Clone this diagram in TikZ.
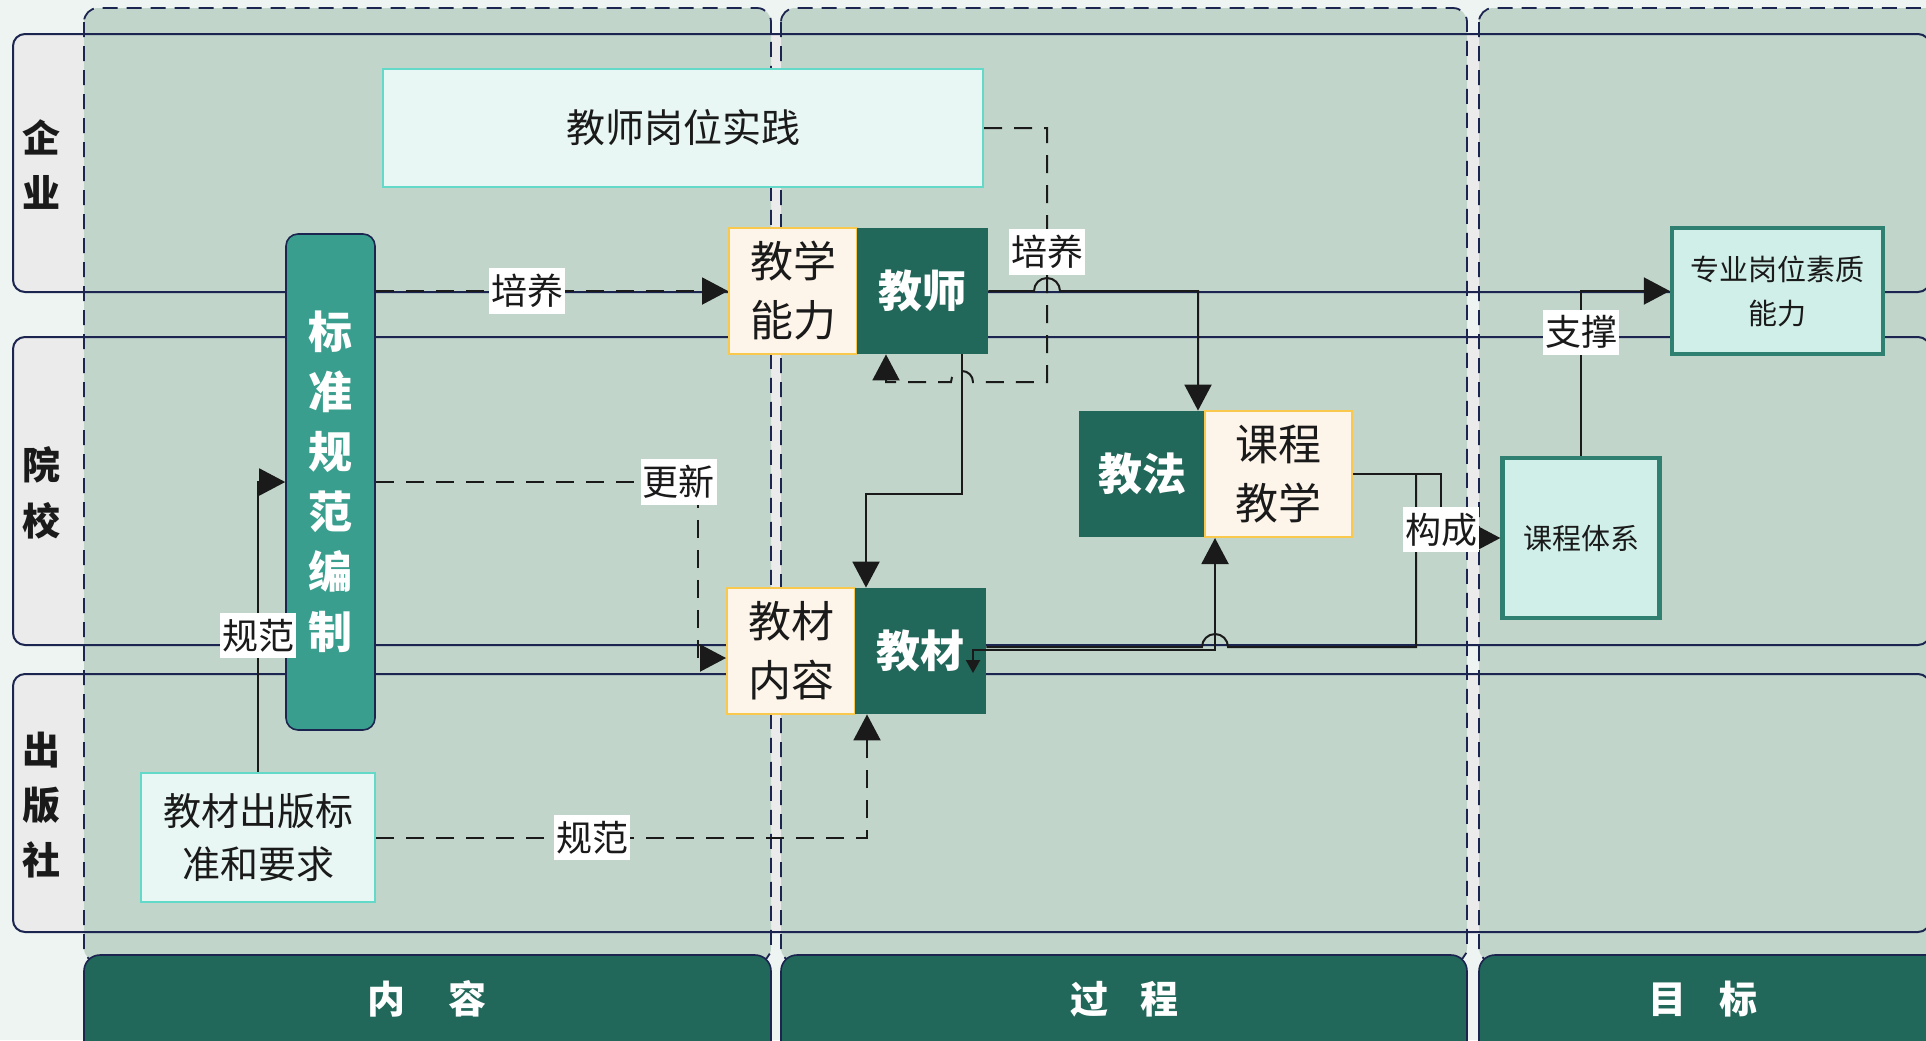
\documentclass[tikz,border=0pt]{standalone}
\usepackage{fontspec}
\setmainfont{Noto Sans CJK SC}
\usetikzlibrary{arrows.meta}
\definecolor{bgc}{HTML}{EEF4F2}
\definecolor{colc}{HTML}{C1D5CB}
\definecolor{lanegray}{HTML}{EBEBEB}
\definecolor{navy}{HTML}{1C2550}
\definecolor{dkg}{HTML}{21675A}
\definecolor{tealc}{HTML}{3A9E8E}
\definecolor{creamc}{HTML}{FEF5EA}
\definecolor{yelc}{HTML}{F8C94C}
\definecolor{lightc}{HTML}{E8F7F4}
\definecolor{turqc}{HTML}{62D9C9}
\definecolor{prof}{HTML}{D0EFE8}
\definecolor{prob}{HTML}{2F8070}
\definecolor{ink}{HTML}{1A1A1A}
\begin{document}
\begin{tikzpicture}[x=0.5pt,y=-0.5pt,
  lanefill/.style={fill=lanegray,rounded corners=6pt},
  laneline/.style={draw=navy,line width=1pt,rounded corners=6pt},
  colfill/.style={fill=colc,rounded corners=7pt},
  colline/.style={draw=navy,line width=0.9pt,dash pattern=on 7.5pt off 4.5pt,rounded corners=7pt},
  headbar/.style={draw=navy,line width=0.8pt,fill=dkg,rounded corners=8pt},
  headtxt/.style={text=white,font=\bfseries\fontsize{19pt}{19pt}\selectfont},
  lanetxt/.style={text=ink,font=\bfseries\fontsize{19pt}{27.5pt}\selectfont,align=center},
  lightbox/.style={draw=turqc,line width=1.2pt,fill=lightc,text=ink,align=center,inner sep=0pt},
  creambox/.style={draw=yelc,line width=1pt,fill=creamc,text=ink,align=center,minimum width=64pt,minimum height=63pt,inner sep=0pt,font=\fontsize{21.5pt}{29.5pt}\selectfont},
  darkbox/.style={fill=dkg,text=white,minimum width=65.5pt,minimum height=63pt,inner sep=0pt,font=\bfseries\fontsize{22pt}{22pt}\selectfont},
  goalbox/.style={draw=prob,line width=2.2pt,fill=prof,text=ink,align=center,inner sep=0pt,font=\fontsize{14.5pt}{22pt}\selectfont},
  lbl/.style={fill=white,text=ink,inner xsep=1pt,inner ysep=3pt,font=\fontsize{18pt}{18pt}\selectfont},
  conn/.style={draw=ink,line width=1pt},
  dconn/.style={draw=ink,line width=1pt,dash pattern=on 9pt off 6pt},
  bigtip/.style={-{Triangle[length=13pt,width=13.5pt]}},
]
\useasboundingbox (0,0) rectangle (1926,1040);
\fill[bgc] (0,0) rectangle (1926,1040);
% lanes (fill)
\fill[lanefill] (13,34) rectangle (1930,292);
\fill[lanefill] (13,337) rectangle (1930,645);
\fill[lanefill] (13,674) rectangle (1930,932);
% columns (fill)
\fill[colfill] (84,8) rectangle (771,962);
\fill[colfill] (781,8) rectangle (1467,962);
\fill[colfill] (1479,8) rectangle (1950,962);
% lane borders
\draw[laneline] (13,34) rectangle (1930,292);
\draw[laneline] (13,337) rectangle (1930,645);
\draw[laneline] (13,674) rectangle (1930,932);
% column borders
\draw[colline] (84,8) rectangle (771,962);
\draw[colline] (781,8) rectangle (1467,962);
\draw[colline] (1479,8) rectangle (1950,962);
% header bars
\draw[headbar] (84,955) rectangle (771,1080);
\draw[headbar] (781,955) rectangle (1467,1080);
\draw[headbar] (1479,955) rectangle (1950,1080);
\node[headtxt] (h1) at (427,999) {内\hspace{22pt}容};
\node[headtxt] (h2) at (1124,999) {过\hspace{16pt}程};
\node[headtxt] (h3) at (1703,999) {目\hspace{17pt}标};
% lane labels
\node[lanetxt] (r1) at (41.5,164.5) {企\\业};
\node[lanetxt,font=\bfseries\fontsize{19pt}{28pt}\selectfont] (r2) at (41.5,493) {院\\校};
\node[lanetxt] (r3) at (41.5,805) {出\\版\\社};
% nodes
\node[lightbox,minimum width=300pt,minimum height=59pt,font=\fontsize{19.5pt}{19.5pt}\selectfont] (jsgw) at (683,128) {教师岗位实践};
\node[draw=navy,line width=0.8pt,fill=tealc,rounded corners=6pt,minimum width=44.5pt,minimum height=248pt,inner sep=0pt,text=white,align=center,font=\bfseries\fontsize{22pt}{30pt}\selectfont] (bzbar) at (330.5,482) {标\\准\\规\\范\\编\\制};
\node[creambox] (jxnl) at (793,291) {教学\\能力};
\node[darkbox] (js) at (922.5,291) {教师};
\node[darkbox,minimum width=63pt] (jf) at (1142,474) {教法};
\node[creambox,minimum width=73.5pt] (kcjx) at (1278.5,474) {课程\\教学};
\node[creambox] (jcnr) at (791,651) {教材\\内容};
\node[darkbox] (jc) at (920.5,651) {教材};
\node[goalbox,minimum width=105.5pt,minimum height=63pt] (zy) at (1777.5,291) {专业岗位素质\\能力};
\node[goalbox,minimum width=78.5pt,minimum height=80pt] (kctx) at (1581,538) {课程体系};
\node[lightbox,minimum width=117pt,minimum height=64.5pt,font=\fontsize{19pt}{26.5pt}\selectfont] (cbbz) at (258,837.5) {教材出版标\\准和要求};
% connectors
\draw[dconn,bigtip] (bzbar.east |- jxnl.west) -- node[lbl,pos=0.43]{培养} (jxnl.west);
\draw[dconn,bigtip] (jsgw.east) -- (1047,128) -- (1047,382) -- (973,382) arc[start angle=0,end angle=180,radius=5.5pt] -- (886,382) -- ([xshift=-18.25pt]js.south);
\node[lbl] (l2) at (1047,252) {培养};
\draw[conn,bigtip] (js.east) -- (1034,291) arc[start angle=180,end angle=0,radius=6.5pt] -| ([xshift=28pt]jf.north);
\draw[conn,bigtip] ([xshift=19.75pt]js.south) -- ++(0,140) -| ([xshift=-27.25pt]jc.north);
\draw[dconn,bigtip] (bzbar.east) -- node[lbl,pos=0.94]{更新} (698,482) |- ([yshift=-3.5pt]jcnr.west);
\draw[conn,bigtip] (cbbz.north) -- node[lbl,pos=0.47]{规范} (cbbz.north |- bzbar.west) -- (bzbar.west);
\draw[dconn,bigtip] (cbbz.east) -- node[lbl,pos=0.44]{规范} (867,837.5) -- ([xshift=-26.75pt]jc.south);
\draw[conn,{Triangle[length=6.5pt,width=7pt]}-{Triangle[length=13pt,width=13.5pt]}] ([xshift=26.25pt,yshift=-11pt]jc.center) -- ([xshift=26.25pt,yshift=0.5pt]jc.center) -| ([xshift=-31.75pt]kcjx.south);
\draw[conn] ([yshift=2pt]jc.east) -- (1202,647) arc[start angle=180,end angle=0,radius=6.5pt] -- (1416,647) -- (1416,474);
\draw[conn,bigtip] (kcjx.east) -- (1441,474) -- node[lbl,pos=0.87]{构成} (1441,538) -- (kctx.west);
\draw[conn,bigtip] (kctx.north) -- node[lbl,pos=0.75]{支撑} (kctx.north |- zy.west) -- (zy.west);
\end{tikzpicture}
\end{document}
